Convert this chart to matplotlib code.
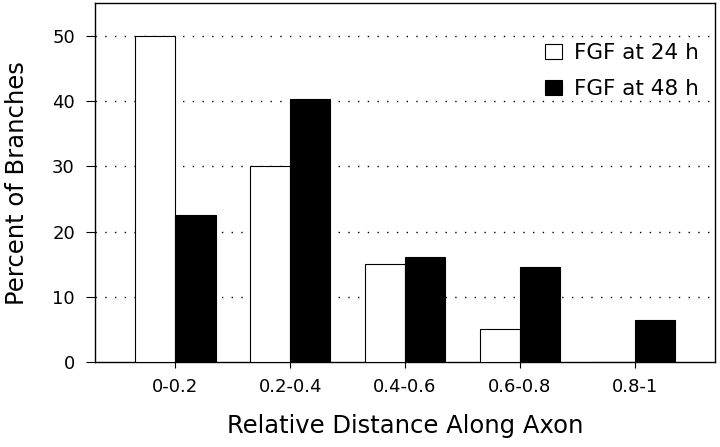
import numpy as np
import matplotlib
matplotlib.use("Agg")
import matplotlib.pyplot as plt

categories = ["0-0.2", "0.2-0.4", "0.4-0.6", "0.6-0.8", "0.8-1"]
fgf_24h = [50, 30, 15, 5, 0]
fgf_48h = [22.5, 40.3, 16.1, 14.5, 6.4]

plt.rcParams['font.family'] = ['DejaVu Sans']

fig = plt.figure(figsize=(7.2, 4.47), dpi=100)
ax = fig.add_axes([0.132, 0.19, 0.861, 0.803])

x = np.arange(len(categories))
w = 0.35
ax.bar(x, fgf_24h, width=-w, align='edge', color='white', edgecolor='black',
       linewidth=0.8, label='FGF at 24 h', zorder=3)
ax.bar(x, fgf_48h, width=w, align='edge', color='black', edgecolor='black',
       linewidth=0.8, label='FGF at 48 h', zorder=3)

ax.set_xlim(-0.7, 4.7)
ax.set_ylim(0, 55)
ax.set_yticks([0, 10, 20, 30, 40, 50])
ax.set_xticks(x)
ax.set_xticklabels(categories)
ax.tick_params(axis='y', length=6.5, width=0.8, labelsize=13, pad=8)
ax.tick_params(axis='x', length=4.3, width=0.8, labelsize=13, pad=7)

for yv in [10, 20, 30, 40, 50]:
    ax.axhline(yv, color='black', linestyle=(0, (1, 6)), linewidth=1, zorder=1)

for s in ax.spines.values():
    s.set_linewidth(1)

ax.set_ylabel("Percent of Branches", fontsize=17.5, labelpad=17)
ax.set_xlabel("Relative Distance Along Axon", fontsize=17.5, labelpad=13)

ax.legend(loc='upper right', bbox_to_anchor=(0.995, 0.925), frameon=False, fontsize=15.5,
          handlelength=0.8, handleheight=0.75, handletextpad=0.55, labelspacing=0.75,
          borderaxespad=0.2)

fig.savefig("out.png", dpi=100)
